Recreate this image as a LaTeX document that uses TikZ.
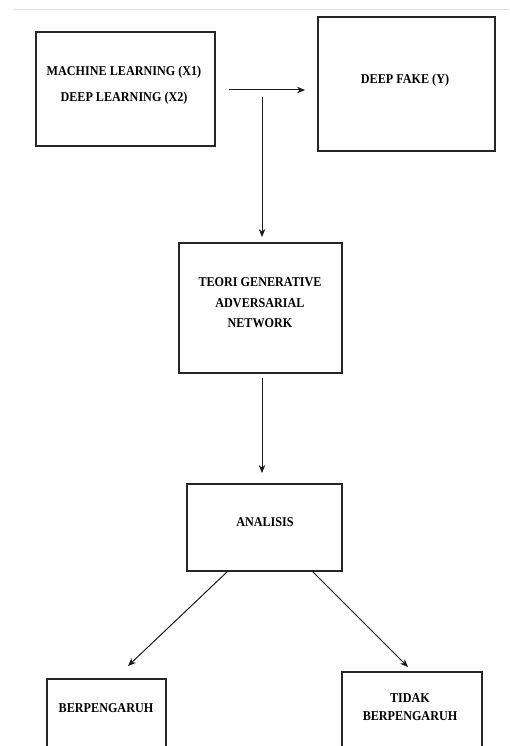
\documentclass[tikz,border=0pt]{standalone}
\usepackage{fontspec}
\setmainfont{Liberation Serif}[FakeStretch=0.9]
\usetikzlibrary{arrows.meta}
\begin{document}
\begin{tikzpicture}[x=1pt,y=-1pt,
  box/.style={draw=black!85, line width=1.2pt, inner sep=0pt, outer sep=0pt},
  txt/.style={align=center, inner sep=0pt, font=\bfseries\fontsize{13.5}{#1}\selectfont},
  txt/.default=15,
  arr/.style={draw=black!90, line width=1pt, -{Stealth[length=8pt,width=6.5pt]}}]
\useasboundingbox (0,0) rectangle (509,746);
\clip (0,0) rectangle (509,746);
\fill[white] (0,0) rectangle (509,746);
\draw[black!12, line width=1pt] (14,10) -- (509,10);
% boxes
\node[box, minimum width=179pt, minimum height=114pt] (b1) at (125.5,89) {};
\node[box, minimum width=177pt, minimum height=134pt] (b2) at (406.5,84) {};
\node[box, minimum width=163pt, minimum height=130pt] (b3) at (260.5,308) {};
\node[box, minimum width=155pt, minimum height=87pt] (b4) at (264.5,527.5) {};
\node[box, minimum width=119pt, minimum height=100pt] (b5) at (106.5,729) {};
\node[box, minimum width=140pt, minimum height=100pt] (b6) at (412,722) {};
% texts
\node[txt=26] (t1) at (124,85) {MACHINE LEARNING (X1)\\DEEP LEARNING (X2)};
\node[txt] (t2) at (405,80) {DEEP FAKE (Y)};
\node[txt=20.5] (t3) at (260,303) {TEORI GENERATIVE\\ADVERSARIAL\\NETWORK};
\node[txt] (t4) at (265,522) {ANALISIS};
\node[txt] (t5) at (106,708) {BERPENGARUH};
\node[txt=18] (t6) at (410,707) {TIDAK\\BERPENGARUH};
% connector end points
\coordinate (h1) at (229,90);
\coordinate (h2) at (305,90);
\coordinate (v1) at (262,97);
\coordinate (v2) at (262,237);
\coordinate (d1) at (228,571);
\coordinate (d2) at (128,666);
\coordinate (e1) at (312,571);
\coordinate (e2) at (408,667);
% connectors
\draw[arr] (h1) -- (h2);
\draw[arr] (v1) -- (v2);
\draw[arr, shorten <=5pt, shorten >=11pt] (b3.south -| v1) -- (b4.north -| v1);
\draw[arr] (d1) -- (d2);
\draw[arr] (e1) -- (e2);
\end{tikzpicture}
\end{document}
